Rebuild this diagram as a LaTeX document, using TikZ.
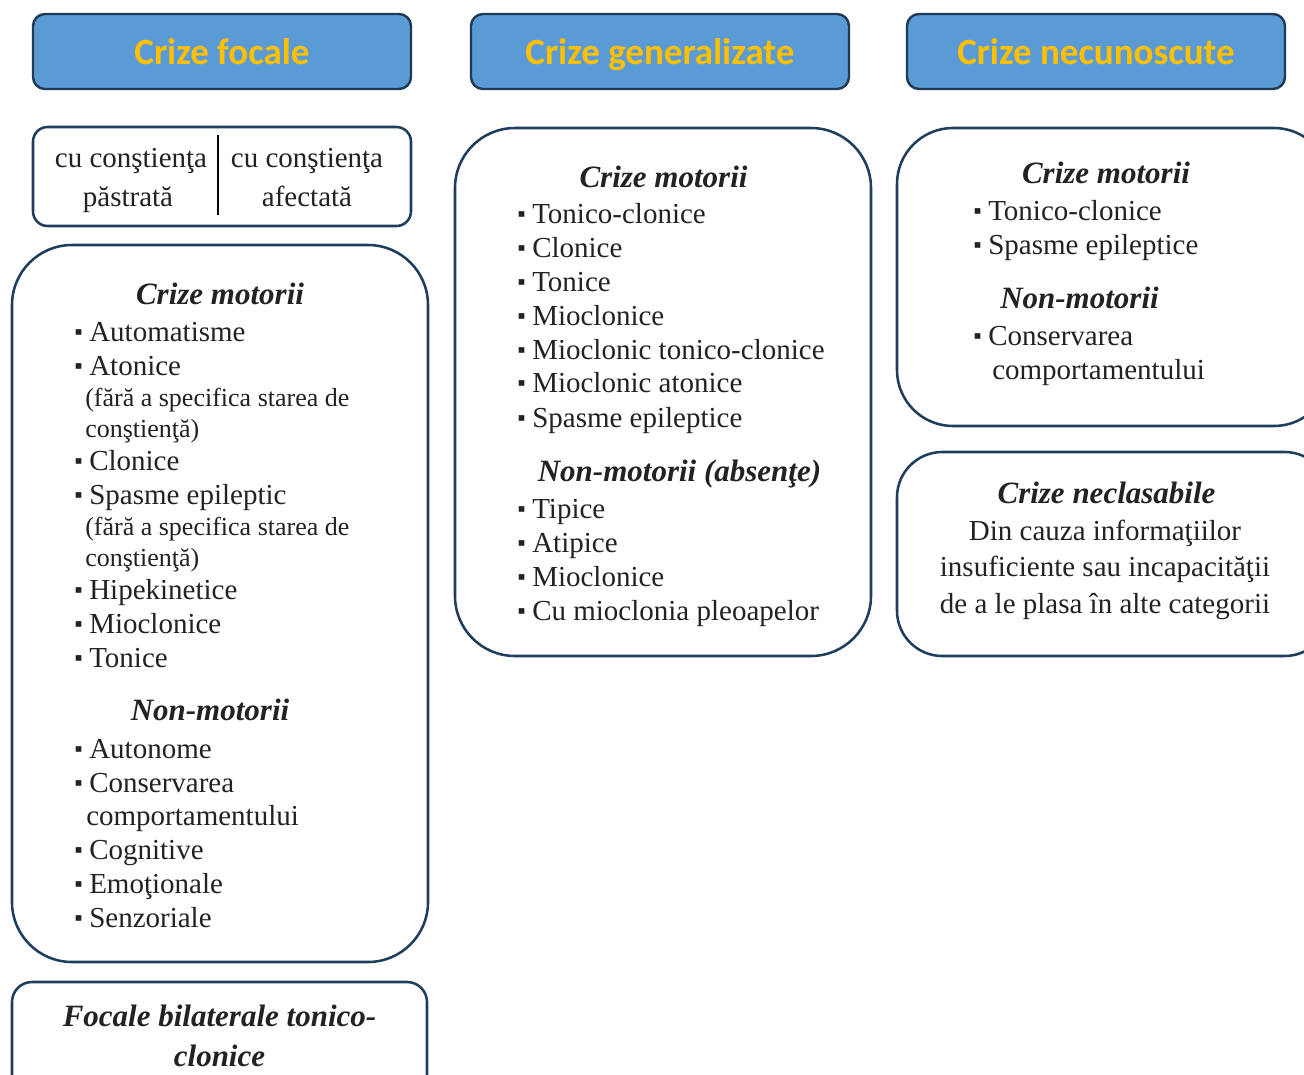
\documentclass[tikz,border=0pt]{standalone}
\usepackage{fontspec}
\setmainfont{Liberation Serif}
\newfontfamily\hdrfont{Carlito}
\definecolor{hdrfill}{HTML}{5B9BD5}
\definecolor{hdrline}{HTML}{203A55}
\definecolor{hdrtext}{HTML}{FFC000}
\definecolor{boxline}{HTML}{1F3D5C}
\definecolor{txt}{HTML}{222222}
\newcommand\bodysz{\fontsize{21.75pt}{25.5pt}\selectfont}
\newcommand\smallsz{\fontsize{19.5pt}{23pt}\selectfont}
\newcommand\headsz{\fontsize{23.25pt}{27pt}\selectfont}
\newcommand\sqbullet{\raisebox{1pt}{\fontsize{17pt}{17pt}\selectfont ▪}}
\begin{document}
\begin{tikzpicture}[x=0.75pt,y=-0.75pt,
  hdr/.style={draw=hdrline, fill=hdrfill, line width=1.8pt, rounded corners=9pt,
    minimum width=283.5pt, minimum height=56.25pt, inner sep=0pt,
    text height=23pt, text depth=4pt,
    font=\hdrfont\bfseries\fontsize{27.75pt}{30pt}\selectfont, text=hdrtext},
  box/.style={draw=boxline, line width=1.9pt},
  txtline/.style={anchor=base west, inner sep=0pt, text=txt, font=\bodysz},
  smline/.style={anchor=base west, inner sep=0pt, text=txt, font=\smallsz},
  ctrline/.style={anchor=base, inner sep=0pt, text=txt, font=\bodysz},
  item/.style={txtline, execute at begin node={\llap{\sqbullet\hspace{5pt}}}},
  heading/.style={anchor=base, inner sep=0pt, text=txt, font=\headsz\bfseries\itshape}]
\useasboundingbox (0,0) rectangle (1304,1075);
\clip (0,0) rectangle (1304,1075);
\fill[white] (0,0) rectangle (1304,1075);

% headers
\node[hdr] (h1) at (222,51.5) {Crize focale};
\node[hdr] (h2) at (660,51.5) {Crize generalizate};
\node[hdr] (h3) at (1096,51.5) {Crize necunoscute};

% small awareness box
\draw[box, rounded corners=11pt] (33,127) rectangle (411,226);
\coordinate (dv1) at (218,135);
\coordinate (dv2) at (218,215);
\draw[black, line width=2pt] (dv1) -- (dv2);
\node[ctrline] (aw1) at (131,167) {cu conştienţa};
\node[ctrline] (aw2) at (128,206) {păstrată};
\node[ctrline] (aw3) at (307,167) {cu conştienţa};
\node[ctrline] (aw4) at (307,206) {afectată};

% left big box
\draw[box, rounded corners=45pt] (12,245) rectangle (428,962);
\node[heading] (fh1) at (220,304) {Crize motorii};
\node[item] (f1) at (89,341) {Automatisme};
\node[item] (f2) at (89,375) {Atonice};
\node[smline] (f2a) at (85,406) {(fără a specifica starea de};
\node[smline] (f2b) at (85,437) {conştienţă)};
\node[item] (f3) at (89,470) {Clonice};
\node[item] (f4) at (89,504) {Spasme epileptic};
\node[smline] (f4a) at (85,535) {(fără a specifica starea de};
\node[smline] (f4b) at (85,566) {conştienţă)};
\node[item] (f5) at (89,599) {Hipekinetice};
\node[item] (f6) at (89,633) {Mioclonice};
\node[item] (f7) at (89,667) {Tonice};
\node[heading] (fh2) at (210,720) {Non-motorii};
\node[item] (f8) at (89,758) {Autonome};
\node[item] (f9) at (89,792) {Conservarea};
\node[txtline] (f9a) at (86,825) {comportamentului};
\node[item] (f10) at (89,859) {Cognitive};
\node[item] (f11) at (89,893) {Emoţionale};
\node[item] (f12) at (89,927) {Senzoriale};

% bottom-left box
\draw[box, rounded corners=15pt] (12,982) rectangle (427,1110);
\node[heading] (fb1) at (219.5,1026) {Focale bilaterale tonico-};
\node[heading] (fb2) at (219.5,1066) {clonice};

% middle box
\draw[box, rounded corners=45pt] (455,128) rectangle (871,656);
\node[heading] (gh1) at (663.5,187) {Crize motorii};
\node[item] (g1) at (532,223) {Tonico-clonice};
\node[item] (g2) at (532,257) {Clonice};
\node[item] (g3) at (532,291) {Tonice};
\node[item] (g4) at (532,325) {Mioclonice};
\node[item] (g5) at (532,359) {Mioclonic tonico-clonice};
\node[item] (g6) at (532,392) {Mioclonic atonice};
\node[item] (g7) at (532,427) {Spasme epileptice};
\node[heading] (gh2) at (679.5,481) {Non-motorii (absenţe)};
\node[item] (g8) at (532,518) {Tipice};
\node[item] (g9) at (532,552) {Atipice};
\node[item] (g10) at (532,586) {Mioclonice};
\node[item] (g11) at (532,620) {Cu mioclonia pleoapelor};

% right top box
\draw[box, rounded corners=42pt] (897,128) rectangle (1330,426);
\node[heading] (uh1) at (1106,183) {Crize motorii};
\node[item] (u1) at (988,220) {Tonico-clonice};
\node[item] (u2) at (988,254) {Spasme epileptice};
\node[heading] (uh2) at (1079.5,308) {Non-motorii};
\node[item] (u3) at (988,345) {Conservarea};
\node[txtline] (u3a) at (992,379) {comportamentului};

% right bottom box
\draw[box, rounded corners=34pt] (897,452) rectangle (1330,656);
\node[heading] (nh) at (1106.5,503) {Crize neclasabile};
\node[ctrline] (n1) at (1105,540) {Din cauza informaţiilor};
\node[ctrline] (n2) at (1105,576) {insuficiente sau incapacităţii};
\node[ctrline] (n3) at (1105,613) {de a le plasa în alte categorii};
\end{tikzpicture}
\end{document}
